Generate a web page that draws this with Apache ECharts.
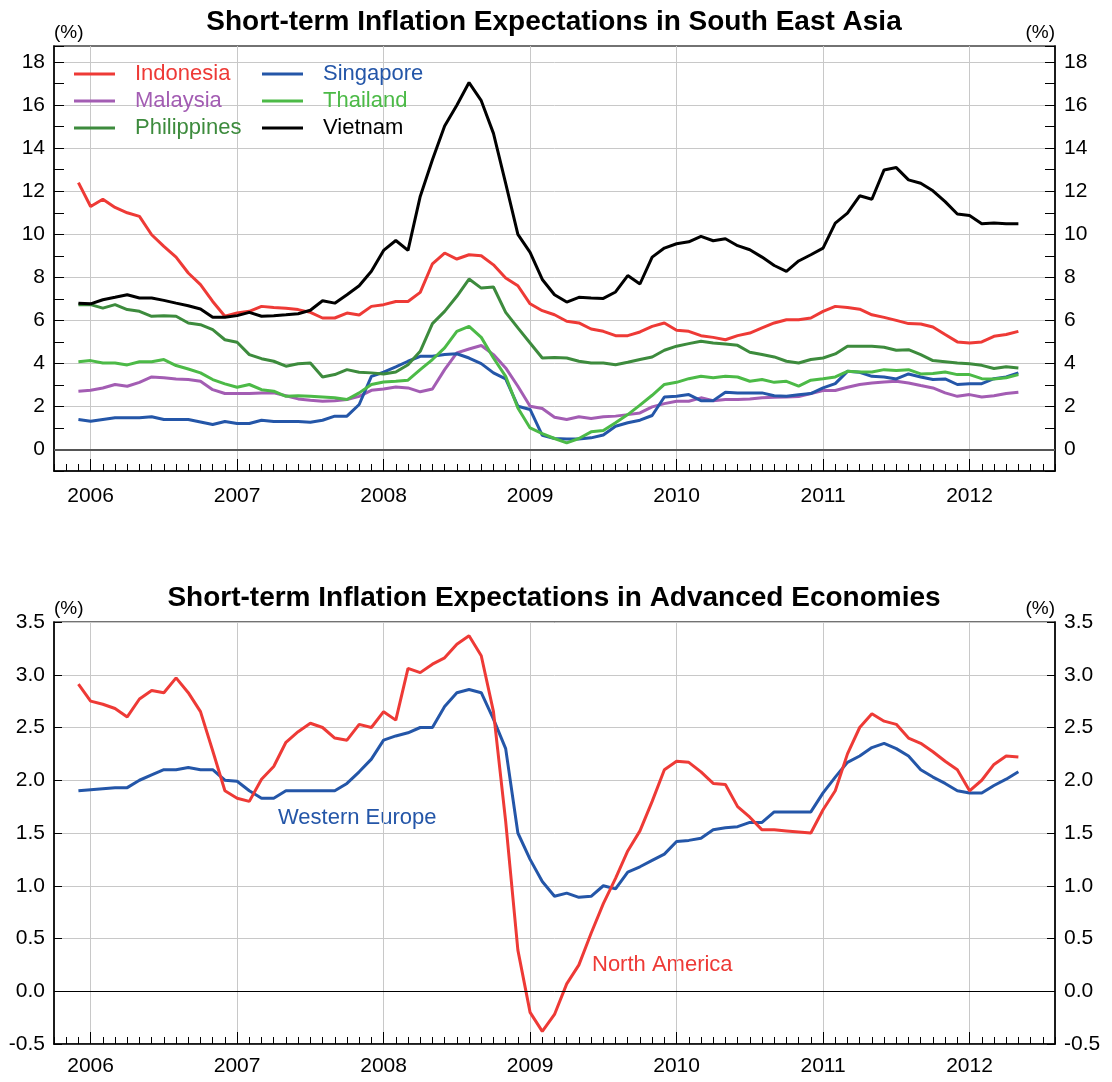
<!DOCTYPE html>
<html>
<head>
    <meta charset="utf-8">
    <title>Short-term Inflation Expectations</title>
    <script src="https://cdn.jsdelivr.net/npm/echarts@6/dist/echarts.min.js"></script>
    <style>body { margin: 0; background: #fff; }</style>
</head>
<body>
    <div id="main" style="width: 1112px; height: 1082px;"></div>

    <script>
        // months on the axis: Oct 2005 .. Aug 2012 (data runs Dec 2005 .. May 2012)
        var months = [];
        for (var y = 2005; y <= 2012; y++) {
            for (var mo = 1; mo <= 12; mo++) {
                if (y == 2005 && mo < 10) continue;
                if (y == 2012 && mo > 8) continue;
                months.push(y + '-' + (mo < 10 ? '0' + mo : mo));
            }
        }
        var firstIndex = 2; // Dec 2005

        // South East Asia (%), Dec 2005 .. May 2012
        var indonesia = [12.4, 11.29, 11.63, 11.25, 11.0, 10.83, 9.98, 9.44, 8.94, 8.2, 7.66, 6.88, 6.19, 6.34, 6.42, 6.65, 6.6, 6.56, 6.5,
            6.37, 6.11, 6.11, 6.34, 6.25, 6.65, 6.73, 6.88, 6.88, 7.3, 8.63, 9.13, 8.85, 9.05, 9.0, 8.58, 7.97, 7.61, 6.77, 6.45,
            6.26, 5.96, 5.88, 5.6, 5.49, 5.29, 5.29, 5.46, 5.72, 5.88, 5.54, 5.49, 5.29, 5.21, 5.1, 5.29, 5.41, 5.65, 5.88, 6.03, 6.03,
            6.11, 6.42, 6.65, 6.6, 6.52, 6.26, 6.14, 6.0, 5.85, 5.83, 5.69, 5.34, 5.0, 4.95, 5.0, 5.26, 5.34, 5.49];
        var malaysia = [2.71, 2.75, 2.86, 3.02, 2.94, 3.12, 3.37, 3.33, 3.28, 3.25, 3.17, 2.78, 2.6, 2.6, 2.6, 2.63, 2.63, 2.5, 2.35,
            2.29, 2.24, 2.27, 2.32, 2.47, 2.75, 2.81, 2.9, 2.86, 2.68, 2.81, 3.71, 4.49, 4.67, 4.83, 4.41, 3.79, 2.94, 2.01, 1.9,
            1.5, 1.39, 1.52, 1.44, 1.52, 1.55, 1.62, 1.7, 1.98, 2.13, 2.24, 2.24, 2.4, 2.27, 2.32, 2.32, 2.35, 2.4, 2.43, 2.44, 2.46,
            2.6, 2.74, 2.74, 2.89, 3.02, 3.09, 3.14, 3.17, 3.09, 2.97, 2.86, 2.63, 2.47, 2.55, 2.44, 2.5, 2.6, 2.66];
        var philippines = [6.73, 6.73, 6.57, 6.73, 6.5, 6.42, 6.19, 6.22, 6.19, 5.88, 5.8, 5.57, 5.1, 4.98, 4.41, 4.22, 4.1, 3.87, 3.98,
            4.02, 3.37, 3.48, 3.71, 3.59, 3.56, 3.51, 3.6, 3.94, 4.56, 5.85, 6.42, 7.12, 7.92, 7.5, 7.55, 6.37, 5.65, 4.95, 4.25,
            4.28, 4.25, 4.1, 4.02, 4.02, 3.94, 4.05, 4.18, 4.3, 4.61, 4.8, 4.92, 5.03, 4.95, 4.9, 4.84, 4.52, 4.41, 4.3, 4.1, 4.02,
            4.18, 4.25, 4.44, 4.8, 4.8, 4.8, 4.75, 4.61, 4.64, 4.41, 4.13, 4.08, 4.02, 3.98, 3.91, 3.76, 3.84, 3.79];
        var singapore = [1.39, 1.31, 1.39, 1.47, 1.47, 1.47, 1.52, 1.39, 1.39, 1.39, 1.28, 1.16, 1.3, 1.21, 1.21, 1.36, 1.3, 1.3, 1.3,
            1.27, 1.36, 1.55, 1.55, 2.09, 3.4, 3.59, 3.84, 4.1, 4.33, 4.33, 4.41, 4.45, 4.25, 3.99, 3.56, 3.28, 2.01, 1.86, 0.66,
            0.51, 0.49, 0.49, 0.54, 0.67, 1.08, 1.24, 1.36, 1.58, 2.44, 2.47, 2.55, 2.27, 2.27, 2.66, 2.63, 2.63, 2.63, 2.5, 2.47, 2.54,
            2.6, 2.86, 3.06, 3.63, 3.59, 3.4, 3.37, 3.28, 3.51, 3.37, 3.25, 3.28, 3.02, 3.06, 3.06, 3.29, 3.37, 3.56];
        var thailand = [4.08, 4.13, 4.02, 4.02, 3.93, 4.08, 4.08, 4.18, 3.9, 3.74, 3.56, 3.25, 3.05, 2.89, 3.02, 2.78, 2.71, 2.47, 2.5,
            2.47, 2.44, 2.4, 2.32, 2.63, 3.02, 3.14, 3.17, 3.22, 3.71, 4.18, 4.72, 5.49, 5.72, 5.21, 4.25, 3.4, 1.93, 1.0, 0.74,
            0.51, 0.31, 0.51, 0.82, 0.88, 1.24, 1.62, 2.06, 2.52, 3.02, 3.12, 3.29, 3.4, 3.33, 3.4, 3.37, 3.17, 3.25, 3.12, 3.17, 2.94,
            3.22, 3.29, 3.37, 3.63, 3.6, 3.6, 3.71, 3.67, 3.71, 3.51, 3.53, 3.6, 3.48, 3.48, 3.29, 3.28, 3.33, 3.48];
        var vietnam = [6.8, 6.77, 6.96, 7.07, 7.19, 7.04, 7.04, 6.93, 6.8, 6.68, 6.53, 6.14, 6.14, 6.22, 6.37, 6.19, 6.22, 6.26, 6.31,
            6.47, 6.91, 6.8, 7.19, 7.61, 8.28, 9.25, 9.71, 9.25, 11.76, 13.46, 15.03, 16.0, 17.05, 16.21, 14.69, 12.37, 10.0, 9.16, 7.9,
            7.19, 6.85, 7.07, 7.04, 7.02, 7.32, 8.08, 7.69, 8.94, 9.36, 9.56, 9.65, 9.9, 9.7, 9.79, 9.47, 9.28, 8.94, 8.55, 8.28, 8.76,
            9.05, 9.36, 10.52, 10.98, 11.79, 11.63, 12.99, 13.1, 12.53, 12.37, 12.02, 11.52, 10.94, 10.87, 10.49, 10.52, 10.49, 10.49];

        // Advanced economies (%), Dec 2005 .. May 2012
        var northAmerica = [2.91, 2.75, 2.72, 2.68, 2.6, 2.77, 2.85, 2.83, 2.97, 2.83, 2.65, 2.28, 1.9, 1.83, 1.8, 2.01, 2.13, 2.36, 2.46,
            2.54, 2.5, 2.4, 2.38, 2.53, 2.5, 2.65, 2.57, 3.06, 3.02, 3.1, 3.16, 3.29, 3.37, 3.18, 2.65, 1.61, 0.39, -0.2, -0.38,
            -0.22, 0.07, 0.25, 0.55, 0.83, 1.07, 1.33, 1.52, 1.8, 2.1, 2.18, 2.17, 2.08, 1.97, 1.96, 1.75, 1.65, 1.53, 1.53, 1.52, 1.51,
            1.5, 1.72, 1.9, 2.25, 2.5, 2.63, 2.56, 2.53, 2.4, 2.35, 2.27, 2.18, 2.1, 1.9, 2.0, 2.15, 2.23, 2.22];
        var westernEurope = [1.9, 1.91, 1.92, 1.93, 1.93, 2.0, 2.05, 2.1, 2.1, 2.12, 2.1, 2.1, 2.0, 1.99, 1.9, 1.83, 1.83, 1.9, 1.9,
            1.9, 1.9, 1.9, 1.97, 2.08, 2.2, 2.38, 2.42, 2.45, 2.5, 2.5, 2.7, 2.83, 2.86, 2.83, 2.58, 2.3, 1.5, 1.25, 1.04,
            0.9, 0.93, 0.89, 0.9, 1.0, 0.97, 1.13, 1.18, 1.24, 1.3, 1.42, 1.43, 1.45, 1.53, 1.55, 1.56, 1.6, 1.6, 1.7, 1.7, 1.7,
            1.7, 1.88, 2.03, 2.17, 2.23, 2.31, 2.35, 2.3, 2.23, 2.1, 2.03, 1.97, 1.9, 1.88, 1.88, 1.95, 2.01, 2.08];

        var RED = '#ee3a36', BLUE = '#2456a8', PURPLE = '#a35db3',
            LGREEN = '#4cba47', DGREEN = '#3d8b3d', BLACK = '#000';
        var FONT = 'Liberation Sans, Arial, sans-serif';

        var myChart = echarts.init(document.getElementById('main'));

        function isJan(i) { return months[i].slice(5) == '01'; }

        function monthAxis(grid, major, margin) {
            return {
                type: 'category', gridIndex: grid, data: months, boundaryGap: false,
                position: 'bottom',
                axisLine: { show: !major, onZero: false, lineStyle: { color: '#000', width: 1.5 } },
                axisTick: { show: true, inside: true, length: major ? 12 : 7,
                    interval: major ? function (i) { return isJan(i); } : 0,
                    lineStyle: { color: '#000', width: 1 } },
                axisLabel: { show: !major, interval: function (i) { return isJan(i); },
                    formatter: function (v) { return v.slice(0, 4); },
                    margin: margin, fontSize: 21, color: '#000', fontFamily: FONT },
                splitLine: { show: !major, interval: function (i) { return isJan(i); },
                    lineStyle: { color: '#c8c8c8', width: 1 } }
            };
        }

        function topYAxis(right) {
            return {
                type: 'value', gridIndex: 0, min: -1, max: 18.75, interval: 1,
                position: right ? 'right' : 'left',
                name: '(%)', nameLocation: 'end', nameGap: 4,
                nameTextStyle: { align: right ? 'right' : 'left', fontSize: 19, color: '#000', fontFamily: FONT },
                axisLine: { show: true, onZero: false, lineStyle: { color: '#000', width: 1.5 } },
                axisTick: { show: true, inside: true, length: 10, lineStyle: { color: '#000' } },
                axisLabel: { formatter: function (v) { return (v >= 0 && v % 2 === 0) ? String(v) : ''; },
                    fontSize: 21, margin: 9, color: '#000', fontFamily: FONT },
                // only every second line (even values) is drawn
                splitLine: { show: !right, lineStyle: { color: ['rgba(0,0,0,0)', '#c8c8c8'], width: 1 } }
            };
        }

        function bottomYAxis(right) {
            return {
                type: 'value', gridIndex: 1, min: -0.5, max: 3.5, interval: 0.5,
                position: right ? 'right' : 'left',
                name: '(%)', nameLocation: 'end', nameGap: 4,
                nameTextStyle: { align: right ? 'right' : 'left', fontSize: 19, color: '#000', fontFamily: FONT },
                axisLine: { show: true, onZero: false, lineStyle: { color: '#000', width: 1.5 } },
                axisTick: { show: true, inside: true, length: 8, lineStyle: { color: '#000' } },
                axisLabel: { formatter: function (v) { return v.toFixed(1); },
                    fontSize: 21, margin: 9, color: '#000', fontFamily: FONT },
                splitLine: { show: !right, lineStyle: { color: '#c8c8c8', width: 1 } }
            };
        }

        function lineSeries(name, values, color, grid, extra) {
            var s = {
                name: name, type: 'line', xAxisIndex: grid * 2, yAxisIndex: grid * 2,
                data: values.map(function (v, i) { return [i + firstIndex, v]; }),
                showSymbol: false, symbol: 'none',
                lineStyle: { color: color, width: 3 }, itemStyle: { color: color },
                animation: false, silent: true
            };
            for (var k in extra) s[k] = extra[k];
            return s;
        }

        function zeroLine(color, width) {
            return {
                silent: true, symbol: ['none', 'none'], animation: false,
                label: { show: false },
                lineStyle: { color: color, width: width, type: 'solid' },
                data: [{ yAxis: 0 }]
            };
        }

        function legendItem(name, color) {
            return { name: name, textStyle: { color: color } };
        }

        var legendBase = {
            orient: 'vertical', top: 63, padding: 0, itemGap: 5,
            itemWidth: 41, itemHeight: 3, icon: 'rect',
            selectedMode: false,
            textStyle: { fontSize: 22, fontFamily: FONT, padding: [0, 0, 0, 15] }
        };

        var option = {
            animation: false,
            backgroundColor: '#fff',
            title: [
                { text: 'Short-term Inflation Expectations in South East Asia', left: 554, top: 8, textAlign: 'center', padding: 0,
                  textStyle: { fontSize: 28, fontWeight: 'bold', color: '#000', fontFamily: FONT } },
                { text: 'Short-term Inflation Expectations in Advanced Economies', left: 554, top: 584, textAlign: 'center', padding: 0,
                  textStyle: { fontSize: 28, fontWeight: 'bold', color: '#000', fontFamily: FONT } }
            ],
            legend: [
                Object.assign({}, legendBase, { left: 74,
                    data: [legendItem('Indonesia', RED), legendItem('Malaysia', PURPLE), legendItem('Philippines', DGREEN)] }),
                Object.assign({}, legendBase, { left: 262,
                    data: [legendItem('Singapore', BLUE), legendItem('Thailand', LGREEN), legendItem('Vietnam', BLACK)] })
            ],
            grid: [
                { left: 54, top: 46, width: 1001, height: 425, show: true, borderColor: '#444', borderWidth: 1.5 },
                { left: 54, top: 622, width: 1001, height: 422, show: true, borderColor: '#444', borderWidth: 1.5 }
            ],
            xAxis: [monthAxis(0, false, 15), monthAxis(0, true, 15), monthAxis(1, false, 12), monthAxis(1, true, 12)],
            yAxis: [topYAxis(false), topYAxis(true), bottomYAxis(false), bottomYAxis(true)],
            graphic: [
                { type: 'text', x: 278, y: 818, silent: true,
                  style: { text: 'Western Europe', fill: BLUE, font: '22px ' + FONT, verticalAlign: 'middle' } },
                { type: 'text', x: 592, y: 965, silent: true,
                  style: { text: 'North America', fill: RED, font: '22px ' + FONT, verticalAlign: 'middle' } }
            ],
            series: [
                lineSeries('Malaysia', malaysia, PURPLE, 0, { markLine: zeroLine('#555', 2) }),
                lineSeries('Singapore', singapore, BLUE, 0),
                lineSeries('Thailand', thailand, LGREEN, 0),
                lineSeries('Philippines', philippines, DGREEN, 0),
                lineSeries('Indonesia', indonesia, RED, 0),
                lineSeries('Vietnam', vietnam, BLACK, 0),
                lineSeries('Western Europe', westernEurope, BLUE, 1, { markLine: zeroLine('#000', 1) }),
                lineSeries('North America', northAmerica, RED, 1)
            ]
        };

        myChart.setOption(option);
    </script>
</body>
</html>
